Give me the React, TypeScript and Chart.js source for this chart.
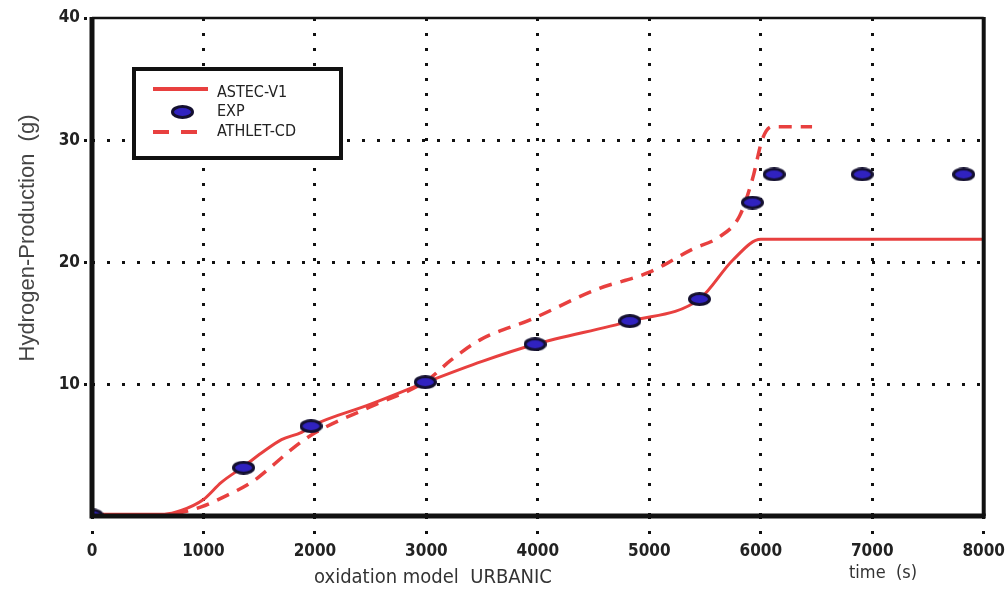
import React, { useEffect, useRef } from "react";
import { Chart, registerables } from "chart.js";

Chart.register(...registerables);

const xTicks = [0, 1000, 2000, 3000, 4000, 5000, 6000, 7000, 8000];
const yTicks = [10, 20, 30, 40];

const astecX = [0, 650, 800, 1000, 1160, 1360, 1520, 1700, 1880, 1965, 2500, 3000, 3500, 3975, 4825, 5450, 5750, 6000, 8000];
const astecY = [-0.6, -0.6, -0.3, 0.6, 2.0, 3.3, 4.4, 5.5, 6.1, 6.6, 8.4, 10.2, 11.9, 13.3, 15.2, 17.0, 20.2, 21.9, 21.9];

const athletX = [750, 980, 1225, 1430, 1610, 1790, 1990, 2500, 3000, 3220, 3490, 3930, 4530, 5000, 5390, 5630, 5810, 5925, 6015, 6100, 6460];
const athletY = [-0.6, 0, 1.0, 2.0, 3.3, 4.7, 6.0, 8.2, 10.3, 12.0, 13.7, 15.3, 17.8, 19.2, 21.1, 22.1, 23.8, 26.8, 30.1, 31.1, 31.1];

const expX = [0, 1360, 1965, 2990, 3975, 4825, 5450, 5925, 6120, 6910, 7820];
const expY = [-0.7, 3.2, 6.6, 10.2, 13.3, 15.2, 17.0, 24.9, 27.2, 27.2, 27.2];

const legendLabels = ["ASTEC-V1", "EXP", "ATHLET-CD"];
const yTitle = "Hydrogen-Production  (g)";
const xTitle = "oxidation model  URBANIC";
const xUnit = "time  (s)";

const FONT = '"Liberation Sans Narrow", "DejaVu Sans Condensed", "Liberation Sans", sans-serif';
const RED = "#e8403f";

function makeMarker(w: number, h: number) {
  const c = document.createElement("canvas");
  c.width = w;
  c.height = h;
  const g = c.getContext("2d")!;
  g.beginPath();
  g.ellipse(w / 2, h / 2, w / 2 - 1.5, h / 2 - 1.5, 0, 0, Math.PI * 2);
  g.fillStyle = "#3022c0";
  g.fill();
  g.lineWidth = 3;
  g.strokeStyle = "#141030";
  g.stroke();
  return c;
}

export default function App() {
  const ref = useRef<HTMLCanvasElement | null>(null);

  useEffect(() => {
    document.body.style.margin = "0";
    const marker = makeMarker(23, 14);
    const pts = (xs: number[], ys: number[]) => xs.map((x, i) => ({ x, y: ys[i] }));

    const decor = {
      id: "decor",
      afterDraw(chart: any) {
        const ctx = chart.ctx;
        const a = chart.chartArea;
        ctx.save();
        ctx.strokeStyle = "#111";
        ctx.setLineDash([]);
        // frame
        ctx.lineWidth = 2.5;
        ctx.beginPath();
        ctx.moveTo(a.left, a.top);
        ctx.lineTo(a.right, a.top);
        ctx.stroke();
        ctx.lineWidth = 4;
        ctx.beginPath();
        ctx.moveTo(a.right, a.top - 1);
        ctx.lineTo(a.right, a.bottom);
        ctx.stroke();
        ctx.lineWidth = 5;
        ctx.beginPath();
        ctx.moveTo(a.left, a.top - 1);
        ctx.lineTo(a.left, a.bottom);
        ctx.lineTo(a.right + 2, a.bottom);
        ctx.stroke();

        // legend box
        ctx.fillStyle = "#fff";
        ctx.fillRect(134, 69, 207, 89);
        ctx.lineWidth = 4;
        ctx.strokeRect(134, 69, 207, 89);
        ctx.strokeStyle = RED;
        ctx.lineWidth = 4;
        ctx.beginPath();
        ctx.moveTo(153, 89);
        ctx.lineTo(208, 89);
        ctx.stroke();
        ctx.setLineDash([16, 12]);
        ctx.beginPath();
        ctx.moveTo(153, 132);
        ctx.lineTo(200, 132);
        ctx.stroke();
        ctx.setLineDash([]);
        ctx.drawImage(marker, 171, 105);
        ctx.fillStyle = "#222";
        ctx.font = "16px " + FONT;
        ctx.textBaseline = "middle";
        ctx.textAlign = "left";
        ctx.fillText(legendLabels[0], 217, 93);
        ctx.fillText(legendLabels[1], 217, 112);
        ctx.fillText(legendLabels[2], 217, 132);

        // x titles
        ctx.fillStyle = "#333";
        ctx.font = "20px " + FONT;
        ctx.textAlign = "center";
        ctx.fillText(xTitle, 433, 578);
        ctx.font = "18px " + FONT;
        ctx.fillText(xUnit, 883, 573);

        // y title
        ctx.translate(28, 238);
        ctx.rotate(-Math.PI / 2);
        ctx.font = "22px \"Liberation Sans\", sans-serif";
        ctx.fillStyle = "#444";
        ctx.fillText(yTitle, 0, 0);
        ctx.restore();
      },
    };

    const chart = new Chart(ref.current!, {
      type: "line",
      data: {
        datasets: [
          {
            label: legendLabels[1],
            data: pts(expX, expY),
            showLine: false,
            pointStyle: marker as any,
            pointRadius: 8,
            order: 0,
          },
          {
            label: legendLabels[0],
            data: pts(astecX, astecY),
            borderColor: RED,
            borderWidth: 3,
            pointRadius: 0,
            cubicInterpolationMode: "monotone",
            order: 1,
          },
          {
            label: legendLabels[2],
            data: pts(athletX, athletY),
            borderColor: RED,
            borderWidth: 3.5,
            borderDash: [13, 9],
            pointRadius: 0,
            cubicInterpolationMode: "monotone",
            order: 2,
          },
        ],
      },
      options: {
        animation: false,
        responsive: false,
        layout: { padding: { top: 18, right: 21, left: 0, bottom: 0 } },
        plugins: { legend: { display: false }, tooltip: { enabled: false } },
        scales: {
          x: {
            type: "linear",
            min: 0,
            max: 8000,
            afterBuildTicks: (s: any) => {
              s.ticks = xTicks.map((v) => ({ value: v }));
            },
            afterFit: (s: any) => {
              s.height = 76;
            },
            grid: {
              color: "#111",
              lineWidth: 3,
              tickLength: 22,
              tickBorderDash: [3, 12],
              tickColor: "#111",
            },
            border: { display: false, dash: [3, 12] },
            ticks: {
              padding: 3,
              color: "#222",
              font: { family: FONT, size: 17, weight: "bold" },
              callback: (v: any) => String(v),
            },
          },
          y: {
            type: "linear",
            min: -0.75,
            max: 40,
            afterBuildTicks: (s: any) => {
              s.ticks = yTicks.map((v) => ({ value: v }));
            },
            afterFit: (s: any) => {
              s.width = 92;
            },
            grid: {
              color: (c: any) => (c.tick && c.tick.value === 40 ? "rgba(0,0,0,0)" : "#111"),
              lineWidth: 3,
              tickLength: 8,
              tickBorderDash: [3, 12],
              tickColor: "#111",
            },
            border: { display: false, dash: [3, 12] },
            ticks: {
              padding: 4,
              color: "#222",
              font: { family: FONT, size: 17, weight: "bold" },
              callback: (v: any) => String(v),
            },
          },
        },
      },
      plugins: [decor],
    } as any);
    return () => chart.destroy();
  }, []);

  return <canvas ref={ref} width={1008} height={592} style={{ display: "block" }} />;
}
